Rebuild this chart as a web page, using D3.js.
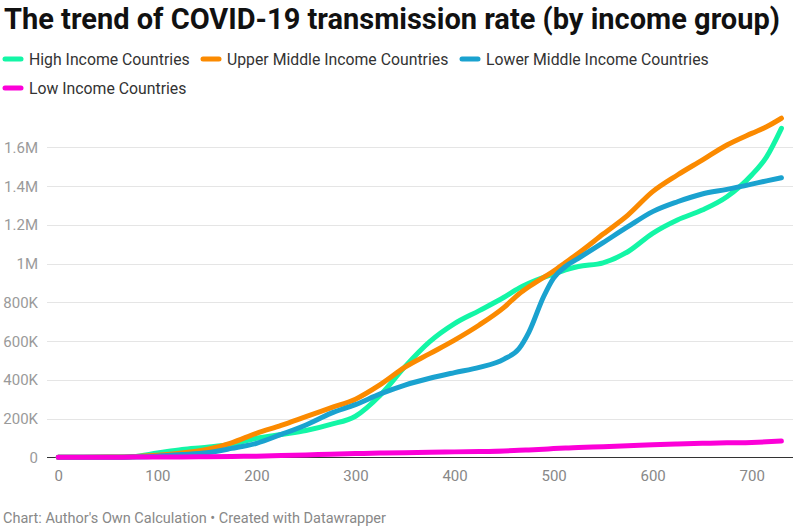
<!DOCTYPE html>
<html>
<head>
<meta charset="utf-8">
<script src="https://cdn.jsdelivr.net/npm/d3@7"></script>
<style>
  html, body { margin: 0; padding: 0; background: #fff; }
  svg { display: block; font-family: Roboto, "Noto Sans", sans-serif; }
</style>
</head>
<body>
<svg id="chart" width="796" height="529"></svg>
<script>
const title = "The trend of COVID-19 transmission rate (by income group)";
const footer = "Chart: Author's Own Calculation • Created with Datawrapper";
const seriesNames = ["High Income Countries", "Upper Middle Income Countries", "Lower Middle Income Countries", "Low Income Countries"];
const seriesColors = ["#13f6a6", "#fb8a00", "#1aa2cf", "#fc00d8"];
const days = [0, 25, 50, 75, 100, 125, 150, 175, 200, 225, 250, 275, 300, 325, 350, 375, 400, 425, 450, 465, 475, 490, 500, 512, 525, 550, 575, 600, 625, 650, 675, 700, 715, 730];
const highIncome = [0, 0, 1000, 4000, 22000, 40000, 52000, 68000, 98000, 118000, 138000, 170000, 212000, 320000, 468000, 597000, 690000, 757000, 826000, 873000, 898000, 929000, 945000, 968000, 985000, 1004000, 1061000, 1156000, 1225000, 1276000, 1345000, 1457000, 1551000, 1698000];
const upperMiddle = [0, 0, 1000, 3000, 10000, 22000, 40000, 75000, 124000, 165000, 210000, 255000, 300000, 375000, 465000, 535000, 605000, 683000, 774000, 843000, 880000, 929000, 961000, 1005000, 1053000, 1152000, 1250000, 1371000, 1457000, 1534000, 1612000, 1672000, 1706000, 1750000];
const lowerMiddle = [0, 0, 0, 2000, 6000, 14000, 24000, 46000, 72000, 118000, 167000, 227000, 272000, 327000, 373000, 408000, 437000, 464000, 507000, 560000, 645000, 830000, 925000, 985000, 1027000, 1108000, 1190000, 1268000, 1319000, 1359000, 1383000, 1410000, 1427000, 1443000];
const lowIncome = [0, 0, 0, 1000, 1000, 2000, 3000, 4000, 6000, 9000, 12000, 16000, 19000, 22000, 24000, 26000, 28000, 30000, 33000, 36000, 38000, 42000, 45000, 48000, 50000, 55000, 60000, 65000, 69000, 72000, 75000, 77000, 80000, 84000];
const yTicks = [0, 200000, 400000, 600000, 800000, 1000000, 1200000, 1400000, 1600000];
const yTickLabels = ["0", "200K", "400K", "600K", "800K", "1M", "1.2M", "1.4M", "1.6M"];
const xTicks = [0, 100, 200, 300, 400, 500, 600, 700];

const allSeries = [highIncome, upperMiddle, lowerMiddle, lowIncome];

const svg = d3.select("#chart");

// Title
const t = svg.append("text")
  .attr("x", 4).attr("y", 29)
  .attr("font-size", 29).attr("font-weight", 700).attr("fill", "#111")
  .text(title);
const tl = t.node().getComputedTextLength();
if (Math.abs(tl - 777) > 4) t.attr("textLength", 777).attr("lengthAdjust", "spacingAndGlyphs");

// Legend
const legendPos = [[2, 59], [200, 59], [459, 59], [2, 88]];
seriesNames.forEach((name, i) => {
  const g = svg.append("g").attr("transform", `translate(${legendPos[i][0]},${legendPos[i][1]})`);
  g.append("line").attr("x1", 3).attr("x2", 19).attr("y1", 0).attr("y2", 0)
    .attr("stroke", seriesColors[i]).attr("stroke-width", 5).attr("stroke-linecap", "round");
  g.append("text").attr("x", 27).attr("y", 5.5).attr("font-size", 15.8).attr("fill", "#333").text(name);
});

// Scales
const x = d3.scaleLinear().domain([0, 700]).range([58.3, 751.7]);
const y = d3.scaleLinear().domain([0, 1600000]).range([457.3, 147.3]);

// Grid + y labels
const grid = svg.append("g");
yTicks.forEach((v, i) => {
  if (v !== 0) {
    grid.append("line").attr("x1", 47).attr("x2", 793)
      .attr("y1", Math.round(y(v)) + 0.5).attr("y2", Math.round(y(v)) + 0.5)
      .attr("stroke", "#e5e5e5").attr("stroke-width", 1);
  }
  grid.append("text").attr("x", 38).attr("y", y(v) + 5.5)
    .attr("text-anchor", "end").attr("font-size", 15).attr("fill", "#9a9a9a")
    .text(yTickLabels[i]);
});

// X axis labels
const xAxis = d3.axisBottom(x).tickValues(xTicks).tickSize(0).tickPadding(0);
const xg = svg.append("g").attr("transform", `translate(0,${y(0)})`).call(xAxis);
xg.select(".domain").remove();
xg.selectAll("text").attr("dy", 0).attr("y", 24).attr("font-size", 15)
  .attr("fill", "#888").attr("font-family", "Roboto, 'Noto Sans', sans-serif");

// Baseline
svg.append("line").attr("x1", 47).attr("x2", 793)
  .attr("y1", Math.round(y(0)) + 0.5).attr("y2", Math.round(y(0)) + 0.5)
  .attr("stroke", "#333").attr("stroke-width", 1);

// Lines
const line = d3.line()
  .x((d, i) => x(days[i]))
  .y(d => y(d))
  .curve(d3.curveMonotoneX);

const lg = svg.append("g");
allSeries.forEach((s, i) => {
  lg.append("path").datum(s)
    .attr("d", line).attr("fill", "none")
    .attr("stroke", seriesColors[i]).attr("stroke-width", 5)
    .attr("stroke-linecap", "round").attr("stroke-linejoin", "round");
});

// Footer
svg.append("text").attr("x", 3).attr("y", 523)
  .attr("font-size", 14.5).attr("fill", "#888").text(footer);
</script>
</body>
</html>
